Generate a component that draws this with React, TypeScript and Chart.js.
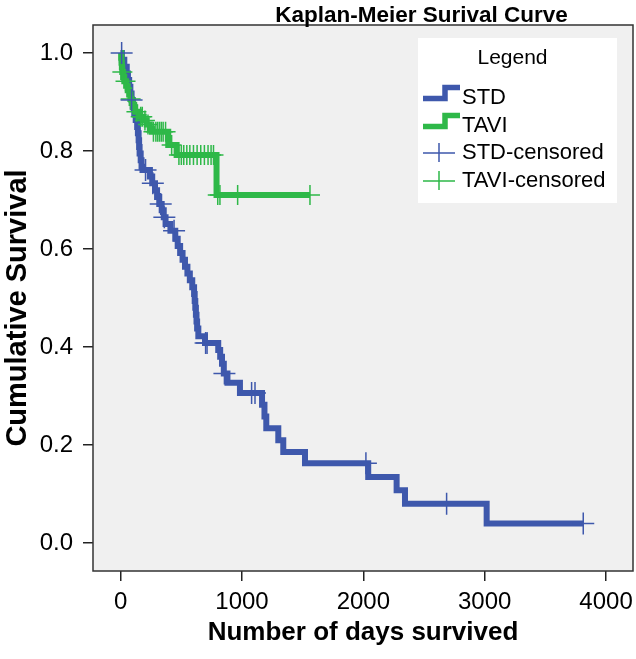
import { useEffect, useRef } from "react";
import { Chart, registerables } from "chart.js";
Chart.register(...registerables);

const CHART_TITLE = "Kaplan-Meier Surival Curve";
const X_TITLE = "Number of days survived";
const Y_TITLE = "Cumulative Survival";
const LEGEND_TITLE = "Legend";
const X_TICKS = [0, 1000, 2000, 3000, 4000];
const Y_TICKS = [0, 0.2, 0.4, 0.6, 0.8, 1.0];
const X_MIN = -228;
const X_MAX = 4222;
const Y_MIN = -0.057;
const Y_MAX = 1.057;

const GROUPS = ["STD", "TAVI"];
const CENSOR_LABELS = ["STD-censored", "TAVI-censored"];
const COLORS = ["#3E58AC", "#2EB848"];

// STD group: event times and survival after each event
const STD_TIMES = [10, 30, 50, 60, 70, 80, 90, 100, 112, 124, 136, 142, 148, 152, 156, 165, 172, 180, 241, 260, 283, 300, 318, 338, 355, 370, 410, 450, 470, 490, 510, 530, 550, 570, 590, 605, 610, 615, 620, 625, 630, 640, 695, 804, 820, 835, 850, 880, 983, 1165, 1185, 1200, 1299, 1340, 1519, 2040, 2274, 2343, 3016];
const STD_SURV = [0.986, 0.972, 0.958, 0.945, 0.931, 0.917, 0.904, 0.89, 0.877, 0.863, 0.849, 0.836, 0.822, 0.808, 0.795, 0.781, 0.768, 0.761, 0.748, 0.734, 0.72, 0.706, 0.692, 0.679, 0.665, 0.651, 0.637, 0.621, 0.606, 0.592, 0.578, 0.564, 0.55, 0.536, 0.522, 0.508, 0.494, 0.48, 0.466, 0.452, 0.438, 0.422, 0.408, 0.394, 0.38, 0.366, 0.346, 0.327, 0.306, 0.282, 0.258, 0.234, 0.21, 0.186, 0.163, 0.135, 0.108, 0.08, 0.04];
const STD_CENSOR = [8, 90, 205, 265, 330, 360, 440, 700, 712, 855, 1079, 1107, 2021, 2686, 3812];

// TAVI group
const TAVI_TIMES = [4, 7, 10, 13, 20, 30, 45, 58, 70, 80, 90, 100, 120, 150, 190, 215, 240, 258, 392, 461, 790];
const TAVI_SURV = [0.99, 0.98, 0.971, 0.961, 0.951, 0.942, 0.933, 0.924, 0.915, 0.906, 0.898, 0.889, 0.88, 0.87, 0.862, 0.854, 0.846, 0.839, 0.812, 0.792, 0.71];
const TAVI_CENSOR = [14, 40, 82, 130, 165, 178, 200, 225, 270, 290, 305, 320, 335, 350, 370, 420, 480, 500, 520, 545, 570, 600, 630, 660, 690, 720, 745, 765, 800, 818, 964, 1560];

const FONT = "'Liberation Sans', Arial, Helvetica, sans-serif";

function survAt(times: number[], surv: number[], t: number) {
  let s = 1;
  for (let i = 0; i < times.length; i++) if (times[i] <= t) s = surv[i];
  return s;
}
function stepData(times: number[], surv: number[], censor: number[]) {
  const pts = [{ x: 0, y: 1 }];
  times.forEach((t, i) => pts.push({ x: t, y: surv[i] }));
  const end = Math.max(...censor, ...times);
  pts.push({ x: end, y: surv[surv.length - 1] });
  return pts;
}
function censorData(times: number[], surv: number[], censor: number[]) {
  return censor.map((t) => ({ x: t, y: survAt(times, surv, t) }));
}

const framePlugin = {
  id: "frame",
  beforeDraw(chart: any) {
    const { ctx, chartArea: a } = chart;
    ctx.save();
    ctx.fillStyle = "#f0f0f0";
    ctx.fillRect(a.left, a.top, a.right - a.left, a.bottom - a.top);
    ctx.restore();
  },
  afterDraw(chart: any) {
    const { ctx, chartArea: a } = chart;
    ctx.save();
    ctx.strokeStyle = "#333";
    ctx.lineWidth = 1.5;
    ctx.strokeRect(a.left, a.top, a.right - a.left, a.bottom - a.top);
    // title
    ctx.fillStyle = "#000";
    ctx.font = `bold 22.5px ${FONT}`;
    ctx.textAlign = "center";
    ctx.textBaseline = "alphabetic";
    ctx.fillText(CHART_TITLE, 421.5, 22);
    // y-axis title
    ctx.save();
    ctx.translate(18, 308);
    ctx.rotate(-Math.PI / 2);
    ctx.font = `bold 29px ${FONT}`;
    ctx.textBaseline = "middle";
    ctx.fillText(Y_TITLE, 0, 0);
    ctx.restore();
    // legend
    const lx = 418, ly = 38, lw = 199, lh = 165;
    ctx.fillStyle = "#ffffff";
    ctx.fillRect(lx, ly, lw, lh);
    ctx.fillStyle = "#000";
    ctx.font = `21px ${FONT}`;
    ctx.fillText(LEGEND_TITLE, lx + lw / 2 - 5, ly + 26);
    ctx.textAlign = "left";
    ctx.font = `22px ${FONT}`;
    const labels = [...GROUPS, ...CENSOR_LABELS];
    const bases = [104, 132, 159, 187];
    labels.forEach((lab, i) => {
      const b = bases[i];
      const col = COLORS[i % 2];
      ctx.strokeStyle = col;
      if (i < 2) {
        ctx.lineWidth = 5.5;
        ctx.lineJoin = "miter";
        ctx.lineCap = "butt";
        ctx.beginPath();
        ctx.moveTo(423, b - 5.5);
        ctx.lineTo(445, b - 5.5);
        ctx.lineTo(445, b - 16.5);
        ctx.lineTo(460, b - 16.5);
        ctx.stroke();
      } else {
        ctx.lineWidth = 1.5;
        ctx.beginPath();
        ctx.moveTo(423, b - 6);
        ctx.lineTo(455, b - 6);
        ctx.moveTo(439, b - 16);
        ctx.lineTo(439, b + 3);
        ctx.stroke();
      }
      ctx.fillStyle = "#000";
      ctx.fillText(lab, 462, b);
    });
    ctx.restore();
  },
};

export default function App() {
  const ref = useRef<HTMLCanvasElement>(null);
  useEffect(() => {
    const canvas = ref.current!;
    const chart = new Chart(canvas, {
      type: "line",
      data: {
        datasets: [
          {
            label: CENSOR_LABELS[0],
            type: "scatter",
            data: censorData(STD_TIMES, STD_SURV, STD_CENSOR),
            pointStyle: "cross",
            pointRadius: 11,
            borderColor: COLORS[0],
            backgroundColor: COLORS[0],
            pointBorderWidth: 1.5,
            order: 0,
          } as any,
          {
            label: CENSOR_LABELS[1],
            type: "scatter",
            data: censorData(TAVI_TIMES, TAVI_SURV, TAVI_CENSOR),
            pointStyle: "cross",
            pointRadius: 10,
            borderColor: COLORS[1],
            backgroundColor: COLORS[1],
            pointBorderWidth: 1.5,
            order: 0,
          } as any,
          {
            label: GROUPS[1],
            data: stepData(TAVI_TIMES, TAVI_SURV, TAVI_CENSOR),
            stepped: true,
            borderColor: COLORS[1],
            borderWidth: 6,
            pointRadius: 0,
            fill: false,
            borderJoinStyle: "miter",
            borderCapStyle: "butt",
            order: 1,
          } as any,
          {
            label: GROUPS[0],
            data: stepData(STD_TIMES, STD_SURV, STD_CENSOR),
            stepped: true,
            borderColor: COLORS[0],
            borderWidth: 6,
            pointRadius: 0,
            fill: false,
            borderJoinStyle: "miter",
            borderCapStyle: "butt",
            order: 2,
          } as any,
        ],
      },
      options: {
        responsive: false,
        animation: false,
        devicePixelRatio: 1,
        layout: { autoPadding: false, padding: { top: 25, right: 3, left: 0, bottom: 0 } },
        plugins: { legend: { display: false }, title: { display: false }, tooltip: { enabled: false } },
        scales: {
          x: {
            type: "linear",
            min: X_MIN,
            max: X_MAX,
            afterBuildTicks: (s: any) => {
              s.ticks = X_TICKS.map((v) => ({ value: v }));
            },
            afterFit: (s: any) => {
              s.height = 88;
              s.paddingLeft = 0;
              s.paddingRight = 0;
            },
            ticks: {
              font: { family: FONT, size: 24 },
              color: "#000",
              padding: 7,
              maxRotation: 0,
              autoSkip: false,
              callback: (v: any) => String(v),
            },
            grid: { drawOnChartArea: false, drawTicks: true, tickLength: 10, color: "#222", lineWidth: 1.5 },
            border: { display: false },
            title: {
              display: true,
              text: X_TITLE,
              color: "#000",
              font: { family: FONT, size: 26, weight: "bold" },
              padding: { top: 0, bottom: 11 },
            },
          },
          y: {
            type: "linear",
            min: Y_MIN,
            max: Y_MAX,
            afterBuildTicks: (s: any) => {
              s.ticks = Y_TICKS.map((v) => ({ value: v }));
            },
            afterFit: (s: any) => {
              s.width = 93;
              s.paddingTop = 0;
              s.paddingBottom = 0;
            },
            ticks: {
              font: { family: FONT, size: 24 },
              color: "#000",
              padding: 10,
              autoSkip: false,
              callback: (v: any) => Number(v).toFixed(1),
            },
            grid: { drawOnChartArea: false, drawTicks: true, tickLength: 10, color: "#222", lineWidth: 1.5 },
            border: { display: false },
            title: { display: false },
          },
        },
      },
      plugins: [framePlugin],
    } as any);
    return () => chart.destroy();
  }, []);
  return (
    <div style={{ position: "absolute", left: 0, top: 0, width: 636, height: 659, background: "#fff" }}>
      <canvas ref={ref} width={636} height={659} style={{ display: "block", width: 636, height: 659 }} />
    </div>
  );
}
